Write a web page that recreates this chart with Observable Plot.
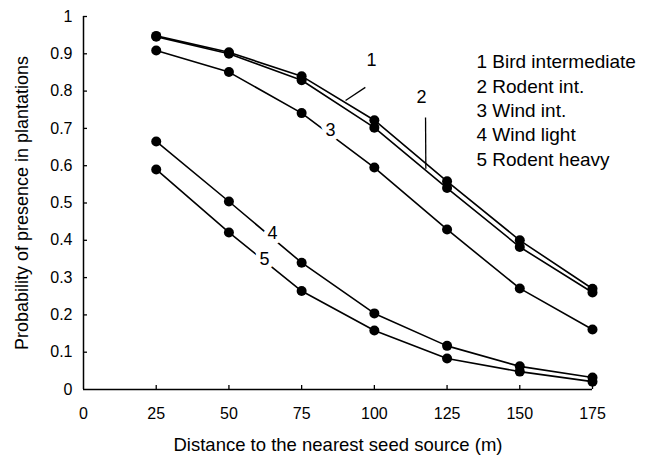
<!DOCTYPE html>
<html>
<head>
<meta charset="utf-8">
<script src="https://cdn.jsdelivr.net/npm/d3@7"></script>
<script src="https://cdn.jsdelivr.net/npm/@observablehq/plot@0.6"></script>
<style>
  html, body { margin: 0; padding: 0; background: #fff; }
  #chart svg { display: block; }
</style>
</head>
<body>
<div id="chart"></div>
<script>
// ---- data ----
const distances = [25, 50, 75, 100, 125, 150, 175];
const seriesNames = ["Bird intermediate", "Rodent int.", "Wind int.", "Wind light", "Rodent heavy"];
const birdIntermediate = [0.948, 0.904, 0.840, 0.722, 0.558, 0.400, 0.270];
const rodentInt        = [0.946, 0.900, 0.829, 0.702, 0.540, 0.382, 0.260];
const windInt          = [0.909, 0.851, 0.741, 0.595, 0.429, 0.271, 0.161];
const windLight        = [0.665, 0.504, 0.340, 0.204, 0.117, 0.062, 0.032];
const rodentHeavy      = [0.590, 0.421, 0.264, 0.158, 0.083, 0.048, 0.021];
const seriesValues = [birdIntermediate, rodentInt, windInt, windLight, rodentHeavy];

const xTicks = [0, 25, 50, 75, 100, 125, 150, 175];
const yTicks = [0, 0.1, 0.2, 0.3, 0.4, 0.5, 0.6, 0.7, 0.8, 0.9, 1];

// in-chart number labels (data units)
const numberLabels = [
  {label: "1", x: 99.0, y: 0.882},
  {label: "2", x: 116.2, y: 0.783},
  {label: "3", x: 84.9, y: 0.694},
  {label: "4", x: 65.0, y: 0.418},
  {label: "5", x: 62.2, y: 0.349}
];
const leaders = [
  {x1: 90.1, y1: 0.775, x2: 96.9, y2: 0.810},
  {x1: 117.6, y1: 0.729, x2: 117.7, y2: 0.592}
];
const legendAnchor = {x: 135.1, y: 0.9075};

// ---- table ----
const rows = seriesNames.flatMap((name, si) =>
  distances.map((d, i) => ({series: name, distance: d, p: seriesValues[si][i]}))
);
const legendText = seriesNames.map((n, i) => `${i + 1} ${n}`).join("\n");

const W = 649, H = 456;
const mL = 83, mR = 57, mT = 16, mB = 67;
const plotW = W - mL - mR, plotH = H - mT - mB;
const font = "'Liberation Sans', Arial, Helvetica, sans-serif";

const chart = Plot.plot({
  width: W,
  height: H,
  marginLeft: mL,
  marginRight: mR,
  marginTop: mT,
  marginBottom: mB,
  style: {fontFamily: font, fontSize: "16px", color: "#000", background: "#fff", overflow: "visible"},
  x: {domain: [0, 175]},
  y: {domain: [0, 1]},
  marks: [
    Plot.axisX({ticks: xTicks, tickSize: 0, tickPadding: 18, label: null, fontSize: 16, tickFormat: d3.format("~g")}),
    Plot.axisY({ticks: yTicks, tickSize: 0, tickPadding: 11, label: null, fontSize: 16, tickFormat: d3.format("~g")}),
    Plot.ruleY([0], {stroke: "#000", strokeWidth: 1.5}),
    Plot.ruleX([0], {stroke: "#000", strokeWidth: 1.5}),
    Plot.tickX(xTicks.filter(d => d > 0), {x: d => d, insetTop: plotH - 4, stroke: "#000", strokeWidth: 1.3}),
    Plot.tickY(yTicks.filter(d => d > 0), {y: d => d, insetRight: plotW - 4, stroke: "#000", strokeWidth: 1.3}),
    Plot.line(rows, {x: "distance", y: "p", z: "series", stroke: "#000", strokeWidth: 1.6}),
    Plot.dot(rows, {x: "distance", y: "p", r: 5, fill: "#000", stroke: "none"}),
    Plot.link(leaders, {x1: "x1", y1: "y1", x2: "x2", y2: "y2", stroke: "#000", strokeWidth: 1.3}),
    Plot.text(numberLabels, {x: "x", y: "y", text: "label", fontSize: 18, fill: "#000", stroke: "#fff", strokeWidth: 10}),
    Plot.text([legendText], {x: legendAnchor.x, y: legendAnchor.y, text: d => d, textAnchor: "start", lineAnchor: "top", lineHeight: 1.28, fontSize: 19, fill: "#000"}),
    Plot.text(["Probability of presence in plantations"], {frameAnchor: "left", dx: -61, rotate: -90, textAnchor: "middle", lineAnchor: "middle", fontSize: 18, fill: "#000"}),
    Plot.text(["Distance to the nearest seed source (m)"], {frameAnchor: "bottom", dy: 56, textAnchor: "middle", lineAnchor: "middle", fontSize: 18.5, fill: "#000"})
  ]
});
document.getElementById("chart").appendChild(chart);
</script>
</body>
</html>
